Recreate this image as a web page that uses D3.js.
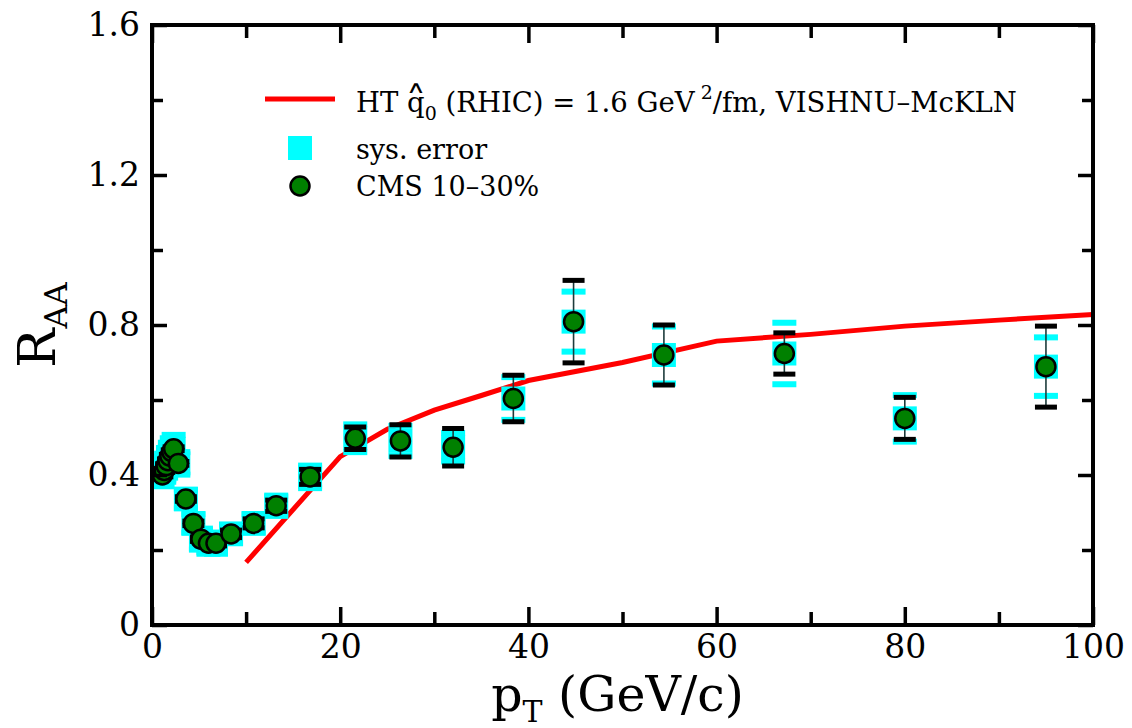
<!DOCTYPE html>
<meta charset="utf-8">
<script src="https://d3js.org/d3.v7.min.js"></script>
<style>
  body { margin: 0; background: #fff; }
  svg text { font-family: "DejaVu Serif", serif; fill: #000; }
</style>
<svg id="chart" width="1132" height="728"></svg>
<script>
// CMS 10-30% charged hadron R_AA
var ptVals   = [1.1, 1.3, 1.5, 1.7, 1.9, 2.1, 2.3, 2.8, 3.6, 4.4, 5.2, 6.0, 6.8, 8.4, 10.8, 13.2, 16.8, 21.6, 26.4, 32.0, 38.4, 44.8, 54.4, 67.2, 80.0, 95.0];
var raaVals  = [0.400, 0.412, 0.425, 0.438, 0.450, 0.462, 0.470, 0.431, 0.336, 0.271, 0.229, 0.218, 0.218, 0.243, 0.271, 0.318, 0.395, 0.498, 0.491, 0.474, 0.604, 0.809, 0.720, 0.724, 0.551, 0.689];
var statErr  = [0.005, 0.005, 0.005, 0.005, 0.005, 0.005, 0.005, 0.005, 0.006, 0.006, 0.006, 0.006, 0.007, 0.010, 0.012, 0.015, 0.020, 0.030, 0.043, 0.050, 0.062, 0.110, 0.080, 0.055, 0.056, 0.108];
var sysErr   = [0.030, 0.030, 0.032, 0.034, 0.036, 0.036, 0.037, 0.030, 0.025, 0.025, 0.028, 0.028, 0.028, 0.025, 0.025, 0.027, 0.030, 0.037, 0.040, 0.038, 0.057, 0.080, 0.076, 0.082, 0.062, 0.078];

// HT curve, VISHNU-McKLN
var htPt  = [10, 20, 25, 30, 35, 40, 50, 60, 70, 80, 90, 100];
var htRaa = [0.167, 0.449, 0.522, 0.573, 0.612, 0.652, 0.700, 0.757, 0.775, 0.797, 0.813, 0.828];

var xMajor = [0, 20, 40, 60, 80, 100];
var xMinor = [10, 30, 50, 70, 90];
var yMajor = [0, 0.4, 0.8, 1.2, 1.6];
var yMinor = [0.2, 0.6, 1.0, 1.4];

var svg = d3.select("#chart");
var pLeft = 152, pRight = 1093, pTop = 25, pBottom = 625;

var x = d3.scaleLinear().domain([0, 100]).range([pLeft, pRight]);
var y = d3.scaleLinear().domain([0, 1.6]).range([pBottom, pTop]);

var points = ptVals.map(function (p, i) {
    return { pt: p, raa: raaVals[i], stat: statErr[i], sys: sysErr[i] };
});

// red theory line
var line = d3.line().x(function (d) { return x(d[0]); }).y(function (d) { return y(d[1]); });
svg.append("path")
    .datum(htPt.map(function (p, i) { return [p, htRaa[i]]; }))
    .attr("d", line)
    .attr("fill", "none")
    .attr("stroke", "#ff0000")
    .attr("stroke-width", 5);

// systematic errors (cyan)
var sysG = svg.append("g");
points.forEach(function (d) {
    var cx = x(d.pt), cy = y(d.raa);
    sysG.append("rect")
        .attr("x", cx - 12).attr("y", cy - 12)
        .attr("width", 24).attr("height", 24)
        .attr("fill", "#00ffff");
    [d.raa + d.sys, d.raa - d.sys].forEach(function (v) {
        sysG.append("rect")
            .attr("x", cx - 12).attr("y", y(v) - 3)
            .attr("width", 24).attr("height", 6)
            .attr("fill", "#00ffff");
    });
});

// statistical errors (black)
var statG = svg.append("g");
points.forEach(function (d) {
    var cx = x(d.pt);
    statG.append("line")
        .attr("x1", cx).attr("x2", cx)
        .attr("y1", y(d.raa + d.stat)).attr("y2", y(d.raa - d.stat))
        .attr("stroke", "#1d3b3b")
        .attr("stroke-width", 1.6);
    [d.raa + d.stat, d.raa - d.stat].forEach(function (v) {
        statG.append("rect")
            .attr("x", cx - 11).attr("y", y(v) - 2.5)
            .attr("width", 22).attr("height", 5)
            .attr("fill", "#000");
    });
});

// data markers
svg.append("g").selectAll("circle")
    .data(points)
    .enter().append("circle")
    .attr("cx", function (d) { return x(d.pt); })
    .attr("cy", function (d) { return y(d.raa); })
    .attr("r", 9.5)
    .attr("fill", "#008000")
    .attr("stroke", "#000")
    .attr("stroke-width", 2.5);

// axes with inward ticks
function styleAxis(g) {
    g.select(".domain").remove();
    g.selectAll(".tick line").attr("stroke", "#000").attr("stroke-width", 3.5);
    g.selectAll(".tick text").style("font-family", "DejaVu Serif").style("font-size", "33px").attr("fill", "#000");
}

svg.append("g").attr("transform", "translate(0," + pBottom + ")")
    .call(d3.axisBottom(x).tickValues(xMajor).tickSize(-18).tickPadding(10).tickFormat(d3.format("d")))
    .call(styleAxis);
svg.append("g").attr("transform", "translate(0," + pBottom + ")")
    .call(d3.axisBottom(x).tickValues(xMinor).tickSize(-13).tickFormat(""))
    .call(styleAxis);
svg.append("g").attr("transform", "translate(0," + pTop + ")")
    .call(d3.axisTop(x).tickValues(xMajor).tickSize(-18).tickFormat(""))
    .call(styleAxis);
svg.append("g").attr("transform", "translate(0," + pTop + ")")
    .call(d3.axisTop(x).tickValues(xMinor).tickSize(-13).tickFormat(""))
    .call(styleAxis);

svg.append("g").attr("transform", "translate(" + pLeft + ",0)")
    .call(d3.axisLeft(y).tickValues(yMajor).tickSize(-15).tickPadding(12).tickFormat(function (d) { return d === 0 ? "0" : d3.format(".1f")(d); }))
    .call(styleAxis);
svg.append("g").attr("transform", "translate(" + pLeft + ",0)")
    .call(d3.axisLeft(y).tickValues(yMinor).tickSize(-11).tickFormat(""))
    .call(styleAxis);
svg.append("g").attr("transform", "translate(" + pRight + ",0)")
    .call(d3.axisRight(y).tickValues(yMajor).tickSize(-15).tickFormat(""))
    .call(styleAxis);
svg.append("g").attr("transform", "translate(" + pRight + ",0)")
    .call(d3.axisRight(y).tickValues(yMinor).tickSize(-11).tickFormat(""))
    .call(styleAxis);

// frame
svg.append("rect")
    .attr("x", pLeft).attr("y", pTop)
    .attr("width", pRight - pLeft).attr("height", pBottom - pTop)
    .attr("fill", "none")
    .attr("stroke", "#000")
    .attr("stroke-width", 4);

// axis titles
var xt = svg.append("text")
    .attr("x", (pLeft + pRight) / 2 - 5).attr("y", 711)
    .attr("text-anchor", "middle")
    .style("font-size", "49px");
xt.append("tspan").text("p");
xt.append("tspan").attr("dy", 11).style("font-size", "30px").text("T");
xt.append("tspan").attr("dy", -11).text(" (GeV/c)");

var yt = svg.append("text")
    .attr("transform", "translate(55," + ((pTop + pBottom) / 2) + ") rotate(-90)")
    .attr("text-anchor", "middle")
    .style("font-size", "52px");
yt.append("tspan").text("R");
yt.append("tspan").attr("dy", 12).style("font-size", "32px").text("AA");

// legend
var lg = svg.append("g");
lg.append("line")
    .attr("x1", 265).attr("x2", 335).attr("y1", 99).attr("y2", 99)
    .attr("stroke", "#ff0000").attr("stroke-width", 5);
lg.append("rect")
    .attr("x", 288).attr("y", 136).attr("width", 24).attr("height", 24)
    .attr("fill", "#00ffff");
lg.append("circle")
    .attr("cx", 300).attr("cy", 186).attr("r", 9.5)
    .attr("fill", "#008000").attr("stroke", "#000").attr("stroke-width", 2.5);

var t1 = lg.append("text").attr("x", 356).attr("y", 112).style("font-size", "27.5px");
t1.append("tspan").text("HT ");
t1.append("tspan").text("q");
t1.append("tspan").attr("dy", 8).style("font-size", "19px").text("0");
t1.append("tspan").attr("dy", -8).text(" (RHIC) = 1.6 GeV");
t1.append("tspan").attr("dy", -13).style("font-size", "19px").text(" 2");
t1.append("tspan").attr("dy", 13).text("/fm, VISHNU\u2013McKLN");

// hat over the q
var qStart = t1.node().getStartPositionOfChar(3);
var hx = qStart.x + 9, hy = 93;
lg.append("text")
    .attr("x", hx).attr("y", hy)
    .attr("text-anchor", "middle")
    .style("font-size", "17px")
    .style("font-family", "DejaVu Sans")
    .attr("transform", "translate(" + hx + "," + hy + ") scale(1.6,1) translate(" + (-hx) + "," + (-hy) + ")")
    .text("\u2227");

lg.append("text").attr("x", 356).attr("y", 159).style("font-size", "27px").text("sys. error");
lg.append("text").attr("x", 356).attr("y", 196).style("font-size", "27px").text("CMS 10\u201330%");
</script>
